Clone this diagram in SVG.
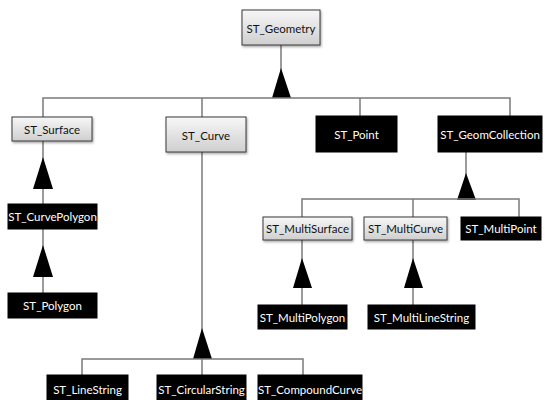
<svg xmlns="http://www.w3.org/2000/svg" width="545" height="400" viewBox="0 0 545 400">
<defs>
<linearGradient id="g" x1="0" y1="0" x2="0" y2="1">
<stop offset="0" stop-color="#f7f7f7"/>
<stop offset="1" stop-color="#cfcfcf"/>
</linearGradient>
<filter id="sh" x="-10%" y="-10%" width="130%" height="140%">
<feDropShadow dx="1" dy="1.5" stdDeviation="0.8" flood-color="#000" flood-opacity="0.35"/>
</filter>
<style>
.light rect{fill:url(#g);stroke:#3a3a3a;stroke-width:1;filter:url(#sh)}
.dark rect{fill:#000;stroke:#000}
text{font-family:Lato,"Liberation Sans",sans-serif;font-size:11.5px;text-anchor:middle;dominant-baseline:central}
.light text{fill:#111}
.dark text{fill:#fff}
.c line,.c polyline{stroke:#7a7a7a;stroke-width:1.5;fill:none}
.c polygon{fill:#000}
</style>
</defs>
<rect width="545" height="400" fill="#fff"/>
<g class="c" id="connectors">
<line x1="281" y1="45" x2="281" y2="97"/>
<polygon points="281,68 272,98 291,98"/>
<polyline points="43,117 43,98 510,98 510,116"/>
<line x1="202" y1="98" x2="202" y2="117"/>
<line x1="360" y1="98" x2="360" y2="116"/>
<line x1="43" y1="141" x2="43" y2="204"/>
<polygon points="43,157 33,189 53,189"/>
<line x1="43" y1="229" x2="43" y2="293"/>
<polygon points="43,245 33,277 53,277"/>
<line x1="202" y1="152" x2="202" y2="375"/>
<polygon points="202,328 193,359 212,359"/>
<polyline points="82,375 82,359 303,359 303,375"/>
<line x1="466" y1="152" x2="466" y2="199"/>
<polygon points="466,173 457,200 476,200"/>
<polyline points="302,217 302,199 519,199 519,217"/>
<line x1="413" y1="199" x2="413" y2="217"/>
<line x1="302" y1="240" x2="302" y2="305"/>
<polygon points="302,258 293,288 312,288"/>
<line x1="413" y1="240" x2="413" y2="305"/>
<polygon points="413,258 404,288 423,288"/>
</g>
<g id="ST_Geometry" class="light"><rect x="242" y="10" width="78" height="35"/><text x="281" y="28.5">ST_Geometry</text></g>
<g id="ST_Surface" class="light"><rect x="12" y="117" width="80" height="24"/><text x="52" y="129">ST_Surface</text></g>
<g id="ST_Curve" class="light"><rect x="166" y="117" width="80" height="35"/><text x="206" y="135">ST_Curve</text></g>
<g id="ST_Point" class="dark"><rect x="316" y="116" width="81" height="36"/><text x="356.5" y="134">ST_Point</text></g>
<g id="ST_GeomCollection" class="dark"><rect x="438" y="116" width="104" height="36"/><text x="490" y="134">ST_GeomCollection</text></g>
<g id="ST_CurvePolygon" class="dark"><rect x="8" y="204" width="89" height="25"/><text x="52.5" y="216.5">ST_CurvePolygon</text></g>
<g id="ST_Polygon" class="dark"><rect x="8" y="293" width="89" height="25"/><text x="52.5" y="305.5">ST_Polygon</text></g>
<g id="ST_MultiSurface" class="light"><rect x="263" y="217" width="89" height="23"/><text x="307.5" y="228.5">ST_MultiSurface</text></g>
<g id="ST_MultiCurve" class="light"><rect x="364" y="217" width="83" height="23"/><text x="405.5" y="228.5">ST_MultiCurve</text></g>
<g id="ST_MultiPoint" class="dark"><rect x="461" y="217" width="80" height="23"/><text x="501" y="228.5">ST_MultiPoint</text></g>
<g id="ST_MultiPolygon" class="dark"><rect x="258" y="305" width="89" height="24"/><text x="302.5" y="317">ST_MultiPolygon</text></g>
<g id="ST_MultiLineString" class="dark"><rect x="368" y="305" width="107" height="24"/><text x="421.5" y="317">ST_MultiLineString</text></g>
<g id="ST_LineString" class="dark"><rect x="47" y="375" width="81" height="30"/><text x="87.5" y="389">ST_LineString</text></g>
<g id="ST_CircularString" class="dark"><rect x="157" y="375" width="89" height="30"/><text x="201.5" y="389">ST_CircularString</text></g>
<g id="ST_CompoundCurve" class="dark"><rect x="258" y="375" width="104" height="30"/><text x="310" y="389">ST_CompoundCurve</text></g>
</svg>
